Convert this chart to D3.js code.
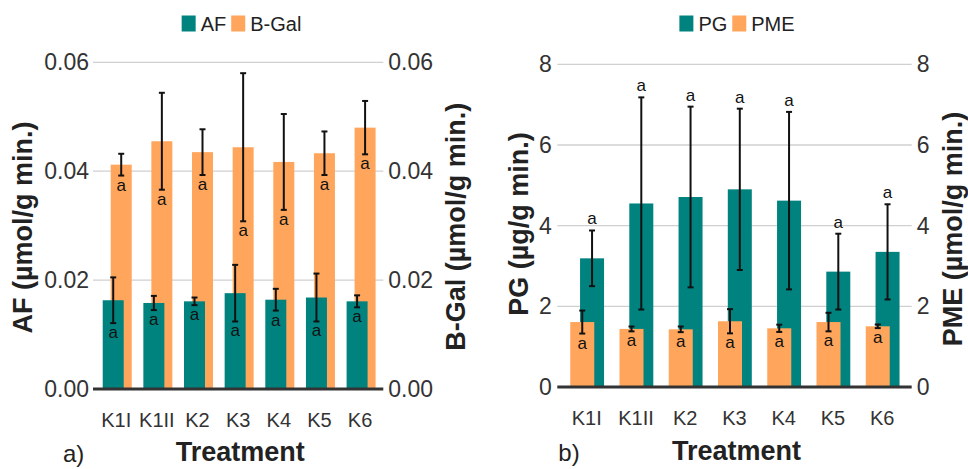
<!DOCTYPE html>
<html>
<head>
<meta charset="utf-8">
<script src="https://cdn.jsdelivr.net/npm/d3@7"></script>
<style>
  body { margin: 0; background: #fff; }
  svg { display: block; font-family: "Liberation Sans", Arial, sans-serif; }
</style>
</head>
<body>
<svg id="chart" width="968" height="469"></svg>
<script>
// treatments on the x axis (both panels)
const treatments = ["K1I", "K1II", "K2", "K3", "K4", "K5", "K6"];

// panel a) - AF (left axis) and B-Gal (right axis), µmol/g min.
const afMean   = [0.0163, 0.0158, 0.0161, 0.0176, 0.0164, 0.0168, 0.0161];
const afErr    = [0.0042, 0.0013, 0.0007, 0.0052, 0.0020, 0.0044, 0.0011];
const bgalMean = [0.0412, 0.0455, 0.0435, 0.0444, 0.0417, 0.0433, 0.0480];
const bgalErr  = [0.0020, 0.0089, 0.0042, 0.0136, 0.0088, 0.0040, 0.0049];
const ticksA   = [0, 0.02, 0.04, 0.06];

// panel b) - PG (left axis, µg/g min.) and PME (right axis, µmol/g min.)
const pgMean  = [3.19, 4.55, 4.71, 4.90, 4.62, 2.86, 3.35];
const pgErr   = [0.69, 2.63, 2.24, 2.00, 2.20, 0.94, 1.18];
const pmeMean = [1.61, 1.44, 1.43, 1.63, 1.455, 1.61, 1.505];
const pmeErr  = [0.285, 0.06, 0.07, 0.30, 0.09, 0.23, 0.045];
const ticksB  = [0, 2, 4, 6, 8];

// significance letters
const afLetters   = ["a", "a", "a", "a", "a", "a", "a"];
const bgalLetters = ["a", "a", "a", "a", "a", "a", "a"];
const pgLetters   = ["a", "a", "a", "a", "a", "a", "a"];
const pmeLetters  = ["a", "a", "a", "a", "a", "a", "a"];

const TEAL = "#00837f", ORANGE = "#ffa65c";
const svg = d3.select("#chart");

function drawPanel(p) {
    const g = svg.append("g");
    const x = d3.scaleBand().domain(treatments).range([p.x0, p.x1])
        .paddingInner(0).paddingOuter(p.outer);
    const yL = d3.scaleLinear().domain(p.domain).range([p.y0, p.y1]);
    const yR = d3.scaleLinear().domain(p.domain).range([p.y0, p.y1]);
    const cx = d => x(d) + x.bandwidth() / 2;

    // gridlines
    g.append("g").selectAll("line").data(p.ticks.filter(t => t > 0)).join("line")
        .attr("x1", p.x0).attr("x2", p.x1)
        .attr("y1", d => yL(d)).attr("y2", d => yL(d))
        .attr("stroke", "#d0d0d0").attr("stroke-width", 1.3);

    // y axes
    const fmt = d3.format(p.fmt);
    const axL = g.append("g").attr("transform", `translate(${p.x0},0)`)
        .call(d3.axisLeft(yL).tickValues(p.ticks).tickFormat(fmt).tickSize(0).tickPadding(p.padL));
    const axR = g.append("g").attr("transform", `translate(${p.x1},0)`)
        .call(d3.axisRight(yR).tickValues(p.ticks).tickFormat(fmt).tickSize(0).tickPadding(5));
    [axL, axR].forEach(a => {
        a.select(".domain").remove();
        a.selectAll("text").attr("font-size", 23).attr("fill", "#333")
            .attr("font-family", "Liberation Sans, Arial, sans-serif");
    });

    // bars: back series first, front series on top
    p.series.forEach(s => {
        const sc = s.axis === "L" ? yL : yR;
        g.append("g").selectAll("rect").data(treatments).join("rect")
            .attr("x", d => cx(d) + s.off - p.barW / 2)
            .attr("width", p.barW)
            .attr("y", (d, i) => sc(s.mean[i]))
            .attr("height", (d, i) => sc(0) - sc(s.mean[i]))
            .attr("fill", s.color);
    });

    // error bars + letters
    p.series.forEach(s => {
        const sc = s.axis === "L" ? yL : yR;
        const eg = g.append("g").attr("stroke", "#111").attr("stroke-width", 2);
        treatments.forEach((d, i) => {
            const xc = cx(d) + s.off;
            const hi = sc(s.mean[i] + s.err[i]), lo = sc(s.mean[i] - s.err[i]);
            eg.append("line").attr("x1", xc).attr("x2", xc).attr("y1", hi).attr("y2", lo);
            eg.append("line").attr("x1", xc - 3).attr("x2", xc + 3).attr("y1", hi).attr("y2", hi);
            eg.append("line").attr("x1", xc - 3).attr("x2", xc + 3).attr("y1", lo).attr("y2", lo);
            g.append("text")
                .attr("x", xc)
                .attr("y", s.letterPos === "above" ? hi - 6 : lo + 15)
                .attr("text-anchor", "middle").attr("font-size", 17).attr("fill", "#111")
                .text(s.letters[i]);
        });
    });

    // zero line
    g.append("line").attr("x1", p.x0).attr("x2", p.x1)
        .attr("y1", yL(0)).attr("y2", yL(0))
        .attr("stroke", "#333").attr("stroke-width", 3);

    // x axis labels
    const axX = g.append("g").attr("transform", `translate(0,${p.y0})`)
        .call(d3.axisBottom(x).tickSize(0).tickPadding(24));
    axX.select(".domain").remove();
    axX.selectAll("text").attr("font-size", 20).attr("fill", "#333")
        .attr("font-family", "Liberation Sans, Arial, sans-serif");

    // titles
    g.append("text").attr("x", (p.x0 + p.x1) / 2 + 2).attr("y", p.xTitleY)
        .attr("text-anchor", "middle").attr("font-size", 27).attr("font-weight", "bold")
        .attr("fill", "#222").text("Treatment");
    p.yTitles.forEach(t => {
        g.append("text").attr("transform", `translate(${t.x},${t.y}) rotate(-90)`)
            .attr("text-anchor", "middle").attr("font-size", 27).attr("font-weight", "bold")
            .attr("fill", "#222").text(t.text);
    });
    g.append("text").attr("x", p.tag.x).attr("y", p.tag.y)
        .attr("font-size", 24).attr("fill", "#222").text(p.tag.text);

    // legend, centred
    const lg = g.append("g");
    let lx = 0;
    p.legend.forEach(it => {
        lg.append("rect").attr("x", lx).attr("y", 15.5).attr("width", 14).attr("height", 16)
            .attr("fill", it.color);
        const t = lg.append("text").attr("x", lx + 19).attr("y", 31)
            .attr("font-size", 20).attr("fill", "#222").text(it.name);
        lx += 19 + t.node().getComputedTextLength() + 5;
    });
    lg.attr("transform", `translate(${p.legendCx - (lx - 5) / 2},0)`);
}

drawPanel({
    x0: 93, x1: 383.3, y0: 389, y1: 62.3, outer: 0.071, barW: 21,
    domain: [0, 0.06], ticks: ticksA, fmt: ".2f", padL: 4,
    series: [
        { mean: bgalMean, err: bgalErr, color: ORANGE, axis: "R", off: 5, letters: bgalLetters, letterPos: "below" },
        { mean: afMean, err: afErr, color: TEAL, axis: "L", off: -3, letters: afLetters, letterPos: "below" }
    ],
    xTitleY: 461,
    yTitles: [
        { text: "AF (µmol/g min.)", x: 32.3, y: 227.5 },
        { text: "B-Gal (µmol/g min.)", x: 465, y: 226.7 }
    ],
    tag: { text: "a)", x: 63, y: 462 },
    legend: [{ name: "AF", color: TEAL }, { name: "B-Gal", color: ORANGE }],
    legendCx: 241.5
});

drawPanel({
    x0: 557.3, x1: 911.7, y0: 387, y1: 64.3, outer: 0.098, barW: 24,
    domain: [0, 8], ticks: ticksB, fmt: "d", padL: 5.6,
    series: [
        { mean: pgMean, err: pgErr, color: TEAL, axis: "L", off: 5.3, letters: pgLetters, letterPos: "above" },
        { mean: pmeMean, err: pmeErr, color: ORANGE, axis: "R", off: -4.5, letters: pmeLetters, letterPos: "below" }
    ],
    xTitleY: 459.5,
    yTitles: [
        { text: "PG (µg/g min.)", x: 528.3, y: 224 },
        { text: "PME (µmol/g min.)", x: 961.7, y: 229 }
    ],
    tag: { text: "b)", x: 558.3, y: 461 },
    legend: [{ name: "PG", color: TEAL }, { name: "PME", color: ORANGE }],
    legendCx: 737
});
</script>
</body>
</html>
